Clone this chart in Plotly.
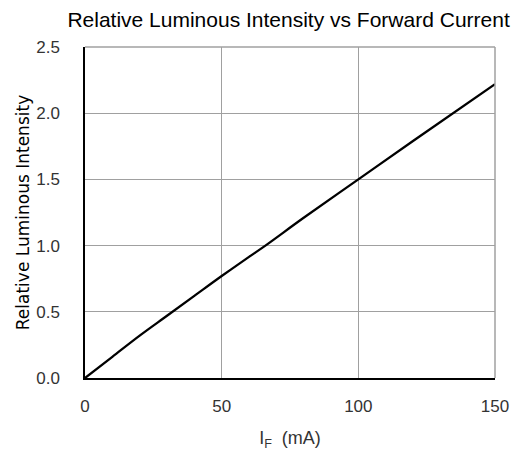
import plotly.graph_objects as go

current_mA = [0, 10, 20, 30, 40, 50, 60, 66, 80, 100, 120, 150]
relative_intensity = [0, 0.16, 0.32, 0.47, 0.62, 0.77, 0.915, 1.0, 1.21, 1.5, 1.79, 2.22]

x_ticks = [0, 50, 100, 150]
y_ticks = [0.0, 0.5, 1.0, 1.5, 2.0, 2.5]
y_tick_text = ["0.0", "0.5", "1.0", "1.5", "2.0", "2.5"]

fig = go.Figure()
fig.add_trace(go.Scatter(x=current_mA, y=relative_intensity, mode="lines",
                         line=dict(color="black", width=2.3), showlegend=False,
                         line_shape="spline"))

grid = "#a0a0a0"
# page body has an 8px default margin, so the figure is 8px smaller than the window
fig.update_layout(
    width=512, height=443,
    margin=dict(l=77, r=25, t=39, b=73),
    paper_bgcolor="white", plot_bgcolor="white",
    font=dict(family="Liberation Sans, Arial, sans-serif", color="#222"),
    title=dict(text="Relative Luminous Intensity vs Forward Current",
               x=0.548, xanchor="center", y=0.973, yanchor="middle",
               font=dict(size=21, color="black")),
    xaxis=dict(range=[0, 150], tickvals=x_ticks, showgrid=True, gridcolor=grid, gridwidth=1,
               showline=True, linecolor="black", linewidth=1.5, zeroline=False, automargin=False,
               ticks="", ticklabelstandoff=12, tickfont=dict(size=17, color="#333"),
               title=dict(text="I<sub>F</sub>  (mA)", font=dict(size=18, color="#333"), standoff=16)),
    yaxis=dict(range=[0, 2.5], tickvals=y_ticks, ticktext=y_tick_text, showgrid=True,
               gridcolor=grid, gridwidth=1, automargin=False,
               showline=True, linecolor="black", linewidth=1.5, zeroline=False,
               ticks="", ticklabelstandoff=20, tickfont=dict(size=17, color="#333"),
               title=dict(text="Relative Luminous Intensity",
                          font=dict(family="DejaVu Sans, sans-serif", size=17, color="black"),
                          standoff=2)),
    shapes=[
        dict(type="line", xref="paper", yref="paper", x0=0, x1=1, y0=1, y1=1, line=dict(color=grid, width=1.5)),
        dict(type="line", xref="paper", yref="paper", x0=1, x1=1, y0=0, y1=1, line=dict(color=grid, width=1.5)),
    ],
)
fig.write_html("out.html")
